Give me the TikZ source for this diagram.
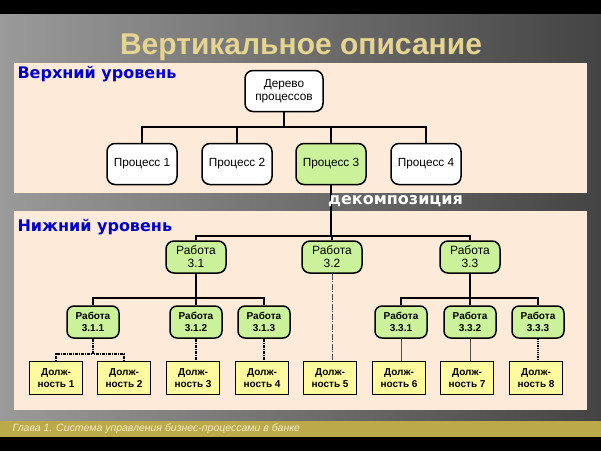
\documentclass[tikz,border=0pt]{standalone}
\usepackage{fontspec}
\setmainfont{Liberation Sans}
\newfontfamily\dejavu{DejaVu Sans}
\definecolor{leafgreen}{HTML}{CBF29B}
\definecolor{postyellow}{HTML}{FFFA9E}
\definecolor{panelpeach}{HTML}{FDEAD9}
\definecolor{footgold}{HTML}{BCA94A}
\definecolor{foottext}{HTML}{F4EBC3}
\definecolor{headgold}{HTML}{E6D590}
\definecolor{levelblue}{HTML}{0000CC}
\definecolor{bgleft}{HTML}{9A9A9A}
\definecolor{bgright}{HTML}{444444}

\begin{document}
\begin{tikzpicture}[x=1pt, y=-1pt,
  box/.style={draw, line width=1.5pt, align=center, inner sep=1pt},
  procbox/.style={box, rounded corners=8pt, fill=white, minimum width=70pt,
    minimum height=41pt, font=\fontsize{11.8}{13}\selectfont},
  workbox/.style={box, rounded corners=8pt, fill=leafgreen, minimum width=60pt,
    minimum height=32pt, font=\fontsize{12}{13}\selectfont},
  taskbox/.style={box, rounded corners=7pt, fill=leafgreen, minimum width=52pt,
    minimum height=32pt, font=\bfseries\fontsize{10}{11.5}\selectfont},
  postbox/.style={box, fill=postyellow, minimum width=53pt,
    minimum height=33pt, font=\bfseries\fontsize{10}{11.5}\selectfont},
  tie/.style={line width=1.3pt},
  thinlink/.style={line width=0.8pt, black!70},
  dashlink/.style={line width=1.2pt, dash pattern=on 3pt off 1pt on 1pt off 1pt},
  tier/.style={anchor=west, font=\dejavu\bfseries\fontsize{16}{18}\selectfont}]

  % background, panels and footer
  \fill[black] (0,0) rectangle (601,451);
  \shade[left color=bgleft, right color=bgright] (0,14) rectangle (601,421);
  \fill[footgold] (0,421) rectangle (601,437);
  \fill[panelpeach] (14,63) rectangle (587,193);
  \fill[panelpeach] (14,211) rectangle (587,410);

  \node[font=\bfseries\fontsize{30}{32}\selectfont, text=headgold] (head) at (301,47) {Вертикальное описание};
  \node[anchor=west, font=\itshape\fontsize{10.5}{12}\selectfont, text=foottext] (foot) at (9,429)
    {Глава 1. Система управления бизнес-процессами в банке};
  \node[tier, text=levelblue] (upper) at (14,74) {Верхний уровень};
  \node[tier, text=levelblue] (lower) at (14,227) {Нижний уровень};

  % upper level
  \node[procbox, minimum width=78pt] (tree) at (284,91) {Дерево\\процессов};
  \node[procbox] (p1) at (142,164) {Процесс 1};
  \node[procbox] (p2) at (237,164) {Процесс 2};
  \node[procbox, fill=leafgreen] (p3) at (331,164) {Процесс 3};
  \node[procbox] (p4) at (426,164) {Процесс 4};

  % lower level
  \node[workbox] (r31) at (196,257) {Работа\\3.1};
  \node[workbox] (r32) at (332,257) {Работа\\3.2};
  \node[workbox] (r33) at (470,257) {Работа\\3.3};
  \node[taskbox] (r311) at (93,322) {Работа\\3.1.1};
  \node[taskbox] (r312) at (196,322) {Работа\\3.1.2};
  \node[taskbox] (r313) at (264,322) {Работа\\3.1.3};
  \node[taskbox] (r331) at (401,322) {Работа\\3.3.1};
  \node[taskbox] (r332) at (470,322) {Работа\\3.3.2};
  \node[taskbox] (r333) at (538,322) {Работа\\3.3.3};

  \foreach \i/\x in {1/56,2/124,3/193,4/262,5/330,6/399,7/467,8/536}
    \node[postbox] (d\i) at (\x,378) {Долж-\\ность \i};

  % connectors
  \coordinate (busA) at (284,127);
  \coordinate (busB) at (331,236);
  \coordinate (busC) at (196,298);
  \coordinate (busD) at (470,298);
  \coordinate (busE) at (93,354);
  \foreach \n in {p1,p2,p3,p4}
    \draw[tie] (tree.south) |- (\n |- busA) -- (\n.north);
  \foreach \n in {r31,r32,r33}
    \draw[tie] (p3.south) |- (\n.north |- busB) -- (\n.north);
  \foreach \n in {r311,r312,r313}
    \draw[tie] (r31.south) |- (\n |- busC) -- (\n.north);
  \foreach \n in {r331,r332,r333}
    \draw[tie] (r33.south) |- (\n |- busD) -- (\n.north);
  \foreach \n in {d1,d2}
    \draw[dashlink] (r311.south) |- (\n |- busE) -- (\n.north);
  \draw[dashlink] (r312.south) -- (r312.south |- d3.north);
  \draw[dashlink] (r313.south) -- (r313.south |- d4.north);
  \draw[thinlink, dash pattern=on 6pt off 1.5pt on 1pt off 1.5pt] (r32.south) -- (r32.south |- d5.north);
  \draw[thinlink] (r331.south) -- (r331.south |- d6.north);
  \draw[thinlink] (r332.south) -- (r332.south |- d7.north);
  \draw[line width=1.2pt, densely dotted] (r333.south) -- (r333.south |- d8.north);

  \node[tier, text=white, inner sep=1pt] (decomp) at (327,201) {декомпозиция};
\end{tikzpicture}
\end{document}
